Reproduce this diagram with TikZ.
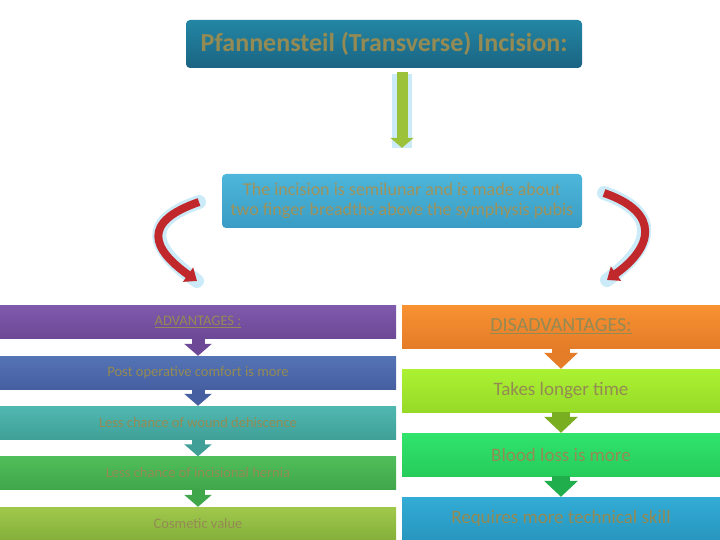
\documentclass[tikz,border=0pt]{standalone}
\usepackage{fontspec}
\setmainfont{Carlito}
\usetikzlibrary{arrows.meta}

\definecolor{txtolive}{HTML}{948A54}
\definecolor{inctxt}{HTML}{A0925A}
\definecolor{titletop}{HTML}{2386A4}
\definecolor{titlebot}{HTML}{1A6482}
\definecolor{inctop}{HTML}{4DB6DA}
\definecolor{incbot}{HTML}{3A9CC4}
\definecolor{glowblue}{HTML}{8FD3F0}
\definecolor{redarr}{HTML}{C0282C}
\definecolor{greenarr}{HTML}{9CC23A}
% bar colours, top and bottom
\definecolor{aonet}{RGB}{128,90,172}   \definecolor{aoneb}{RGB}{108,72,150}
\definecolor{atwot}{RGB}{84,116,182}   \definecolor{atwob}{RGB}{70,95,160}
\definecolor{athreet}{RGB}{80,184,176} \definecolor{athreeb}{RGB}{64,160,152}
\definecolor{afourt}{RGB}{80,190,90}   \definecolor{afourb}{RGB}{64,166,74}
\definecolor{afivet}{RGB}{160,200,76}  \definecolor{afiveb}{RGB}{132,176,58}
\definecolor{donet}{RGB}{248,146,50}   \definecolor{doneb}{RGB}{228,124,40}
\definecolor{dtwot}{RGB}{172,242,50}   \definecolor{dtwob}{RGB}{150,218,40}
\definecolor{dthreet}{RGB}{48,228,108} \definecolor{dthreeb}{RGB}{38,204,90}
\definecolor{dfourt}{RGB}{50,172,214}  \definecolor{dfourb}{RGB}{40,150,190}

\tikzset{
  textcol/.style={text=txtolive},
  advbar/.style={minimum width=396pt,minimum height=33pt,inner sep=0pt,textcol,font=\fontsize{14.5}{17}\selectfont},
  disbar/.style={minimum width=318pt,minimum height=43pt,inner sep=0pt,textcol,font=\fontsize{19}{22}\selectfont},
  downarr/.style={line width=13pt,-{Triangle[width=27pt,length=12pt]}},
  disarr/.style={line width=18pt,-{Triangle[width=33pt,length=16pt]}},
  redbend/.style={redarr,line width=8pt,-{Triangle[width=17pt,length=11pt]}},
  redglow/.style={glowblue,opacity=0.45,line width=14pt,line cap=round},
}

\begin{document}
\begin{tikzpicture}[x=1pt,y=1pt]
  \useasboundingbox (0,0) rectangle (720,-540);
  % title and first box
  \node[rounded corners=4pt,top color=titletop,bottom color=titlebot,minimum width=396pt,minimum height=48pt,inner sep=0pt,
        textcol,font=\bfseries\fontsize{26}{30}\selectfont] (title) at (384,-44) {Pfannensteil (Transverse) Incision:};
  \node[rounded corners=4pt,top color=inctop,bottom color=incbot,minimum width=360pt,minimum height=54pt,inner sep=0pt,
        text=inctxt,align=center,font=\fontsize{18}{20}\selectfont] (inc) at (402,-201)
        {The incision is semilunar and is made about\\two finger breadths above the symphysis pubis};
  \draw[glowblue,opacity=0.45,line width=20pt,shorten <=6pt,shorten >=26pt] (title.south -| inc.north) -- (inc.north);
  \draw[greenarr,line width=11pt,-{Triangle[width=23pt,length=10pt]},shorten <=4pt,shorten >=26pt] (title.south -| inc.north) -- (inc.north);

  % advantages
  \node[advbar,top color=aonet,bottom color=aoneb] (a1) at (198,-322) {\underline{ADVANTAGES :}};
  \node[advbar,top color=atwot,bottom color=atwob] (a2) at (198,-372.5) {Post operative comfort is more};
  \node[advbar,top color=athreet,bottom color=athreeb] (a3) at (198,-422.5) {Less chance of wound dehiscence};
  \node[advbar,top color=afourt,bottom color=afourb] (a4) at (198,-473) {Less chance of incisional hernia};
  \node[advbar,top color=afivet,bottom color=afiveb] (a5) at (198,-523.5) {Cosmetic value};
  \draw[downarr,aoneb] (a1.south) -- (a2.north);
  \draw[downarr,atwob] (a2.south) -- (a3.north);
  \draw[downarr,athreeb] (a3.south) -- (a4.north);
  \draw[downarr,afourb] (a4.south) -- (a5.north);

  % disadvantages
  \node[disbar,top color=donet,bottom color=doneb,font=\fontsize{20}{23}\selectfont] (d1) at (561,-326.5) {\underline{DISADVANTAGES:}};
  \node[disbar,top color=dtwot,bottom color=dtwob] (d2) at (561,-390.5) {Takes longer time};
  \node[disbar,top color=dthreet,bottom color=dthreeb] (d3) at (561,-454.5) {Blood loss is more};
  \node[disbar,top color=dfourt,bottom color=dfourb] (d4) at (561,-518.5) {Requires more technical skill};
  \draw[disarr,doneb] (d1.south) -- (d2.north);
  \draw[disarr,dtwob!80!black] (d2.south) -- (d3.north);
  \draw[disarr,dthreeb!85!black] (d3.south) -- (d4.north);

  % bent arrows
  \coordinate (lstart) at (199,-202);
  \coordinate (lend) at (197,-281);
  \coordinate (rstart) at (604,-193);
  \coordinate (rend) at (607,-280);
  \draw[redglow] (lstart) .. controls +(-58,-20) and +(-45,32) .. (lend);
  \draw[redglow] (rstart) .. controls +(58,-20) and +(45,32) .. (rend);
  \draw[redbend] (lstart) .. controls +(-58,-20) and +(-45,32) .. (lend);
  \draw[redbend] (rstart) .. controls +(58,-20) and +(45,32) .. (rend);
\end{tikzpicture}
\end{document}
